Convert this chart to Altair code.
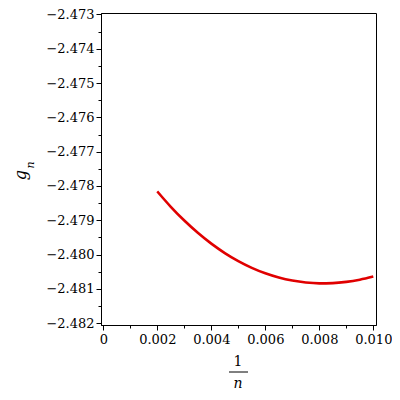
import altair as alt
import pandas as pd

# values
x_vals = [0.0020, 0.0025, 0.0030, 0.0035, 0.0040, 0.0045, 0.0050, 0.0055, 0.0060,
          0.0065, 0.0070, 0.0075, 0.0080, 0.0085, 0.0090, 0.0095, 0.0100]
g_vals = [-2.478159, -2.478606, -2.479007, -2.479364, -2.479680, -2.479954,
          -2.480189, -2.480385, -2.480544, -2.480667, -2.480756, -2.480812,
          -2.480836, -2.480829, -2.480793, -2.480729, -2.480638]

y_ticks = [round(-2.482 + 0.0005 * i, 4) for i in range(19)]
x_ticks = [round(0.001 * i, 3) for i in range(11)]

df = pd.DataFrame({"x": x_vals, "g": g_vals})

FONT = "DejaVu Serif"

y_major = "abs(datum.value*1000 - round(datum.value*1000)) < 0.001"
x_major = "abs(datum.value*500 - round(datum.value*500)) < 0.001"

line = alt.Chart(df).mark_line(color="#e00000", strokeWidth=2.6, interpolate="monotone").encode(
    x=alt.X("x:Q",
            scale=alt.Scale(domain=[-0.000085, 0.0101], nice=False, zero=False),
            axis=alt.Axis(values=x_ticks, title=None, grid=False,
                          labelExpr=f"datum.value == 0 ? '0' : ({x_major} ? format(datum.value, '.3f') : '')",
                          tickSize={"condition": {"test": x_major, "value": 5}, "value": 3},
                          labelOverlap=False, labelFlush=False, labelPadding=3,
                          labelFont=FONT, labelFontSize=13, labelColor="black",
                          domainColor="black", tickColor="black")),
    y=alt.Y("g:Q",
            scale=alt.Scale(domain=[-2.48205, -2.47296], nice=False, zero=False),
            axis=alt.Axis(values=y_ticks, title=None, grid=False,
                          labelExpr=f"{y_major} ? '\u2212' + format(-datum.value, '.3f') : ''",
                          tickSize={"condition": {"test": y_major, "value": 5}, "value": 3},
                          labelOverlap=False, labelFlush=False, labelPadding=2,
                          labelFont=FONT, labelFontSize=13, labelColor="black",
                          domainColor="black", tickColor="black")),
)

one = alt.Chart(pd.DataFrame({"t": ["1"]})).mark_text(
    font=FONT, fontSize=14, color="black", baseline="middle", align="center"
).encode(x=alt.value(137), y=alt.value(349), text="t:N")

bar = alt.Chart(pd.DataFrame({"t": ["bar"]})).mark_rule(color="black", strokeWidth=1).encode(
    x=alt.value(128), x2=alt.value(147), y=alt.value(359)
)

n_txt = alt.Chart(pd.DataFrame({"t": ["n"]})).mark_text(
    font=FONT, fontSize=14, fontStyle="italic", color="black", baseline="middle", align="center"
).encode(x=alt.value(137), y=alt.value(371), text="t:N")

g_txt = alt.Chart(pd.DataFrame({"t": ["g"]})).mark_text(
    font=FONT, fontSize=16, fontStyle="italic", color="black", baseline="middle",
    align="center", angle=270
).encode(x=alt.value(-80), y=alt.value(162), text="t:N")

sub_txt = alt.Chart(pd.DataFrame({"t": ["n"]})).mark_text(
    font=FONT, fontSize=11, fontStyle="italic", color="black", baseline="middle",
    align="center", angle=270
).encode(x=alt.value(-70), y=alt.value(152), text="t:N")

chart = alt.layer(line, one, bar, n_txt, g_txt, sub_txt).properties(
    width=275, height=312,
    padding={"left": 93, "top": 5, "right": 16, "bottom": 67},
    autosize=alt.AutoSizeParams(type="none"),
    background="white",
).configure_view(stroke="black", strokeWidth=1)

chart.save("out.html", embed_options={"renderer": "svg", "actions": False})
